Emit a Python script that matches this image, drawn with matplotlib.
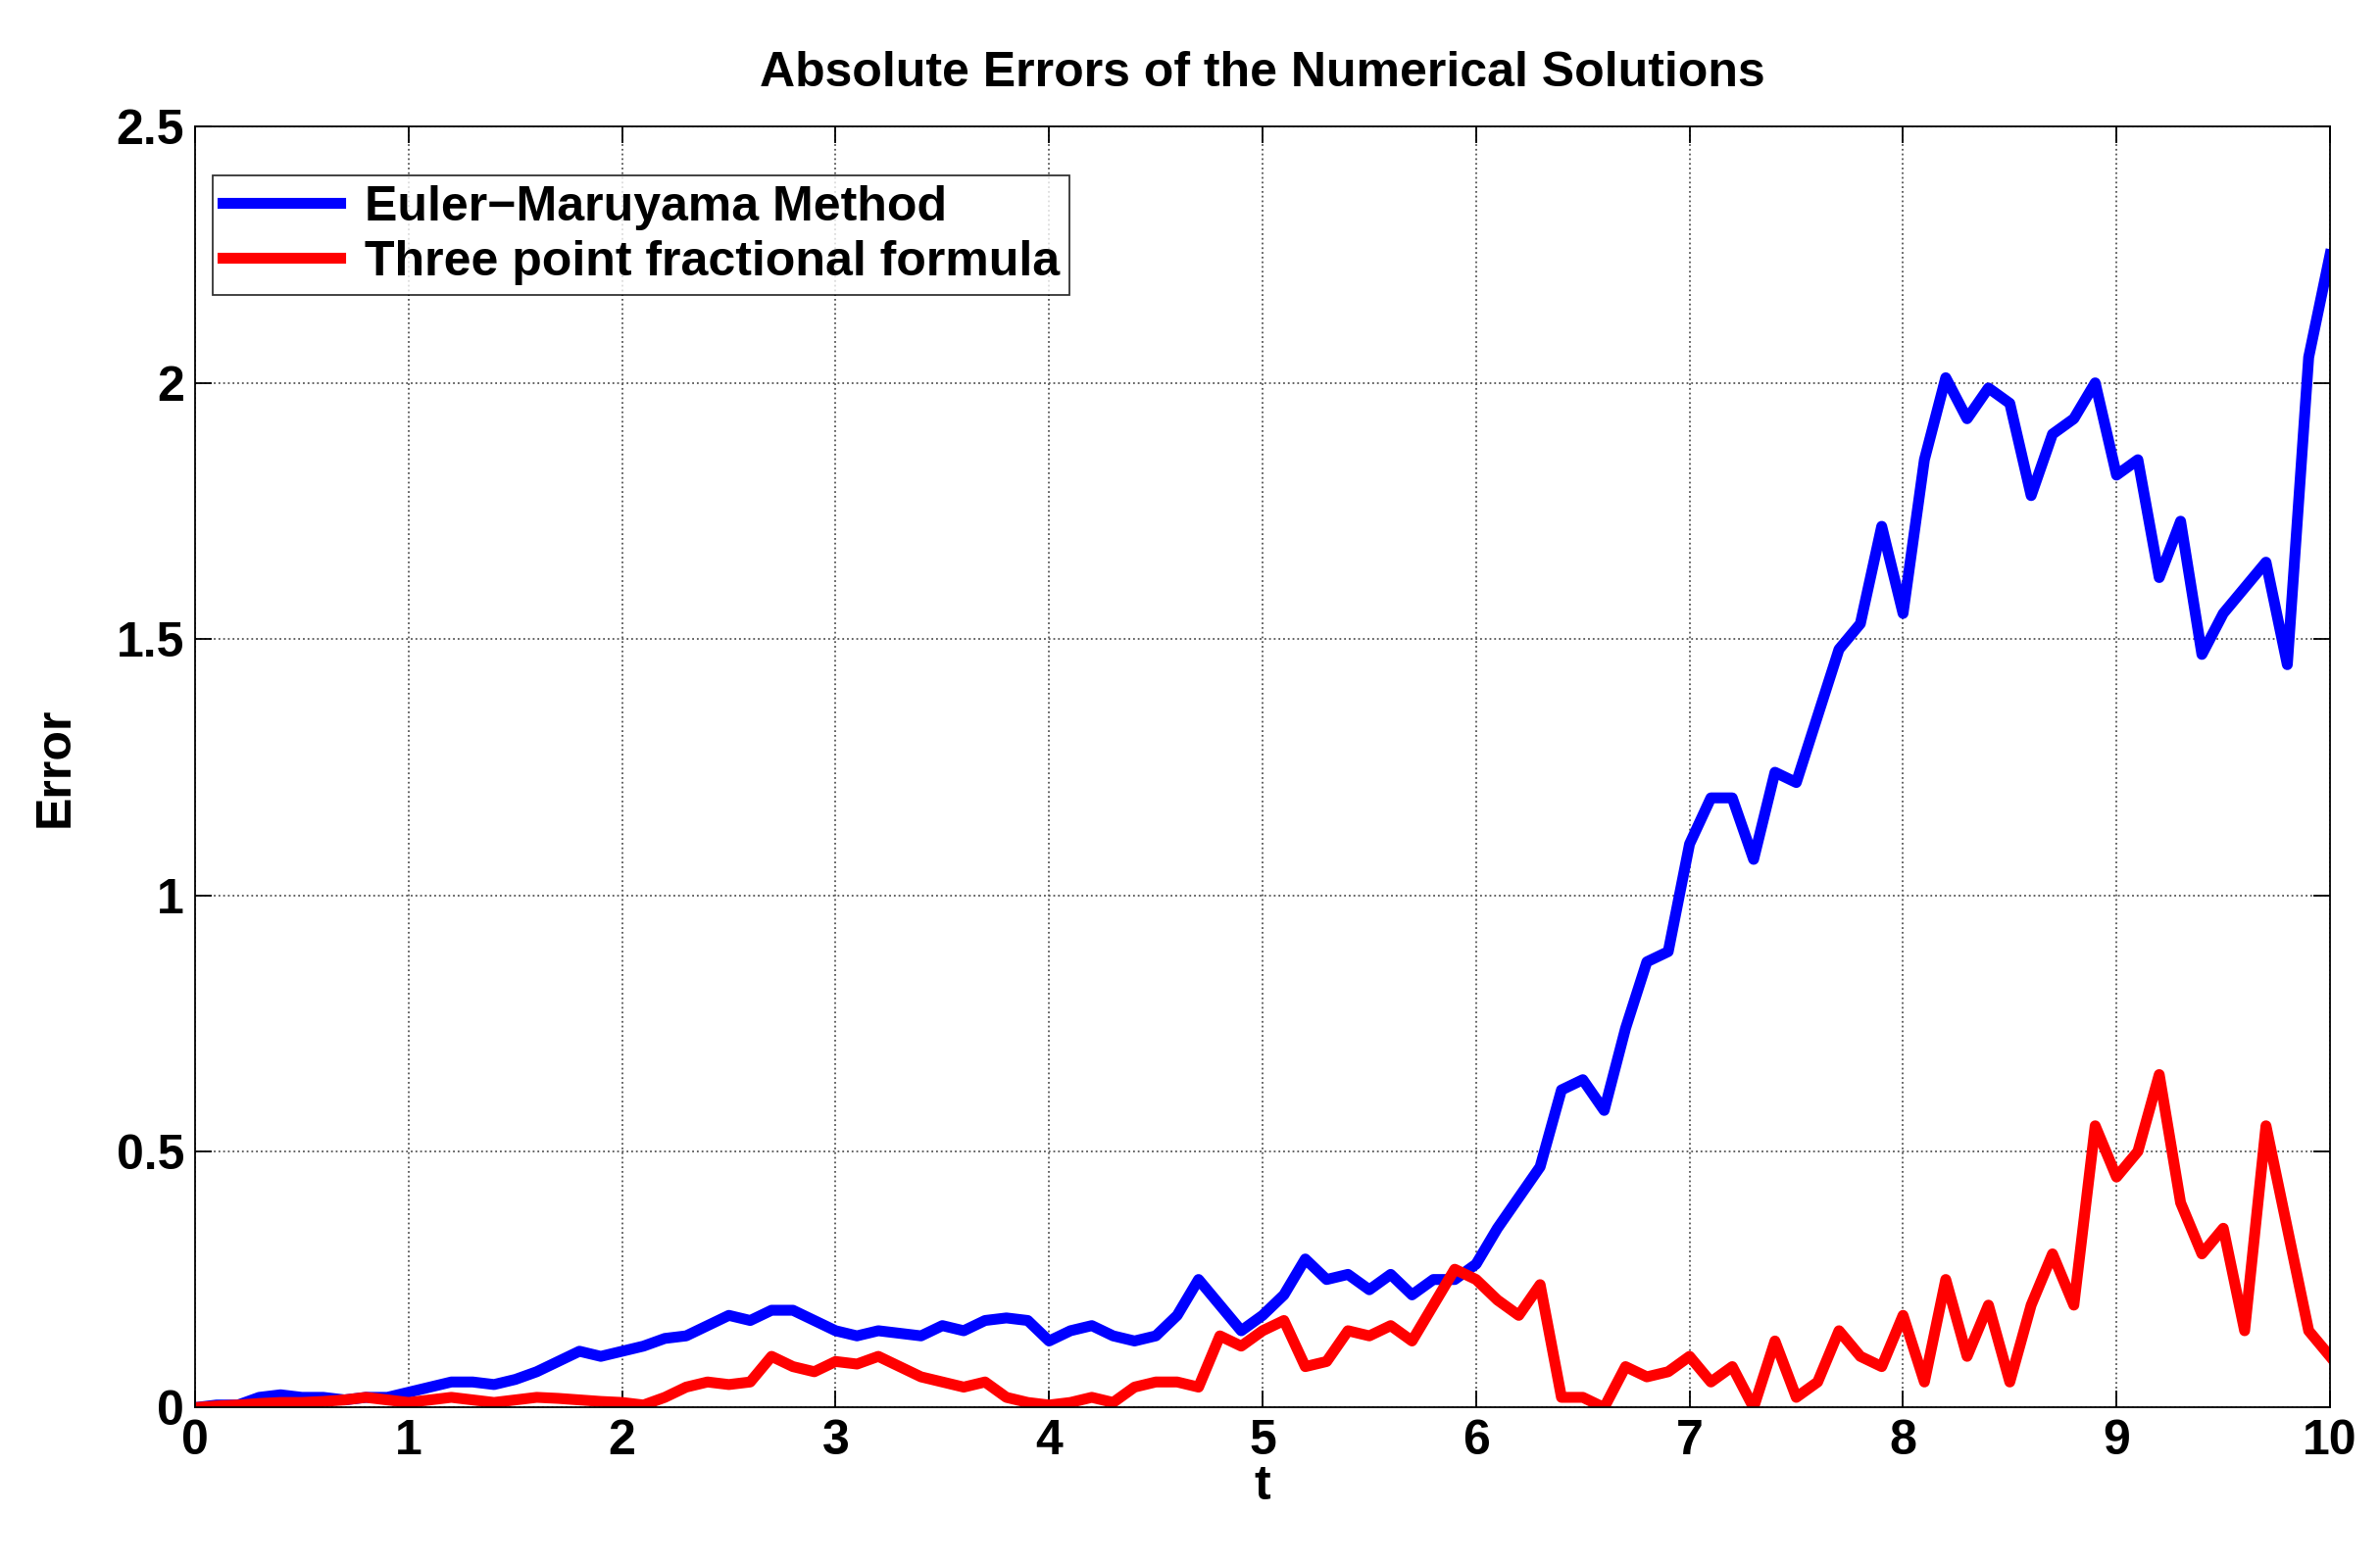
import matplotlib
matplotlib.use("Agg")
import matplotlib.pyplot as plt

plt.rcParams['font.family'] = ['Liberation Sans', 'DejaVu Sans']
plt.rcParams['font.weight'] = 'bold'

t_blue = [0,0.1,0.2,0.3,0.4,0.5,0.6,0.7,0.8,0.9,1.0,1.1,1.2,1.3,1.4,1.5,1.6,1.7,1.8,1.9,2.0,2.1,2.2,2.3,2.4,2.5,2.6,2.7,2.8,2.9,3.0,3.1,3.2,3.3,3.4,3.5,3.6,3.7,3.8,3.9,4.0,4.1,4.2,4.3,4.4,4.5,4.6,4.7,4.8,4.9,5.0,5.1,5.2,5.3,5.4,5.5,5.6,5.7,5.8,5.9,6.0,6.1,6.2,6.3,6.4,6.5,6.6,6.7,6.8,6.9,7.0,7.1,7.2,7.3,7.4,7.5,7.6,7.7,7.8,7.9,8.0,8.1,8.2,8.3,8.4,8.5,8.6,8.7,8.8,8.9,9.0,9.1,9.2,9.3,9.4,9.5,9.6,9.7,9.8,9.9,10.0]
euler = [0,0.005,0.005,0.02,0.025,0.02,0.02,0.015,0.02,0.02,0.03,0.04,0.05,0.05,0.045,0.055,0.07,0.09,0.11,0.10,0.11,0.12,0.135,0.14,0.16,0.18,0.17,0.19,0.19,0.17,0.15,0.14,0.15,0.145,0.14,0.16,0.15,0.17,0.175,0.17,0.13,0.15,0.16,0.14,0.13,0.14,0.18,0.25,0.20,0.15,0.18,0.22,0.29,0.25,0.26,0.23,0.26,0.22,0.25,0.25,0.28,0.35,0.41,0.47,0.62,0.64,0.58,0.74,0.87,0.89,1.10,1.19,1.19,1.07,1.24,1.22,1.35,1.48,1.53,1.72,1.55,1.85,2.01,1.93,1.99,1.96,1.78,1.90,1.93,2.00,1.82,1.85,1.62,1.73,1.47,1.55,1.60,1.65,1.45,2.05,2.25]

t_red = t_blue
three = [0,0.003,0.005,0.008,0.01,0.01,0.012,0.015,0.02,0.015,0.01,0.015,0.02,0.015,0.01,0.015,0.02,0.018,0.015,0.012,0.01,0.005,0.02,0.04,0.05,0.045,0.05,0.10,0.08,0.07,0.09,0.085,0.10,0.08,0.06,0.05,0.04,0.05,0.02,0.01,0.005,0.01,0.02,0.01,0.04,0.05,0.05,0.04,0.14,0.12,0.15,0.17,0.08,0.09,0.15,0.14,0.16,0.13,0.20,0.27,0.25,0.21,0.18,0.24,0.02,0.02,0.0,0.08,0.06,0.07,0.10,0.05,0.08,0.0,0.13,0.02,0.05,0.15,0.10,0.08,0.18,0.05,0.25,0.10,0.20,0.05,0.20,0.30,0.20,0.55,0.45,0.50,0.65,0.40,0.30,0.35,0.15,0.55,0.35,0.15,0.10]

fig = plt.figure(figsize=(24.28, 15.96), dpi=100)
ax = fig.add_axes([0.082, 0.100, 0.897, 0.819])
ax.plot(t_blue, euler, color='#0000ff', lw=8, label='Euler\u2212Maruyama Method')
ax.plot(t_red, three, color='#ff0000', lw=8, label='Three point fractional formula')
ax.set_xlim(0, 10)
ax.set_ylim(0, 2.5)
ax.set_xticks(range(0, 11))
ax.set_yticks([0, 0.5, 1, 1.5, 2, 2.5])
ax.set_yticklabels(['0', '0.5', '1', '1.5', '2', '2.5'])
ax.grid(True, linestyle=':', color='#555555', lw=1.3)
ax.tick_params(direction='in', top=True, right=True, labelsize=36, length=12, width=1.3, pad=8)
for s in ax.spines.values():
    s.set_linewidth(1.3)
ax.set_xlabel('t', fontsize=36, fontweight='bold', labelpad=0)
ax.set_ylabel('Error', fontsize=36, fontweight='bold', labelpad=28)
ax.set_title('Absolute Errors of the Numerical Solutions', fontsize=36, fontweight='bold', pad=30)
leg = ax.legend(loc='upper left', fontsize=36, fancybox=False, edgecolor='black',
                handlelength=2.4, handletextpad=0.5, borderpad=0.2, labelspacing=0.2,
                borderaxespad=0, bbox_to_anchor=(0.008, 0.962))
leg.get_frame().set_linewidth(1.3)
fig.savefig('out.png', dpi=100)
